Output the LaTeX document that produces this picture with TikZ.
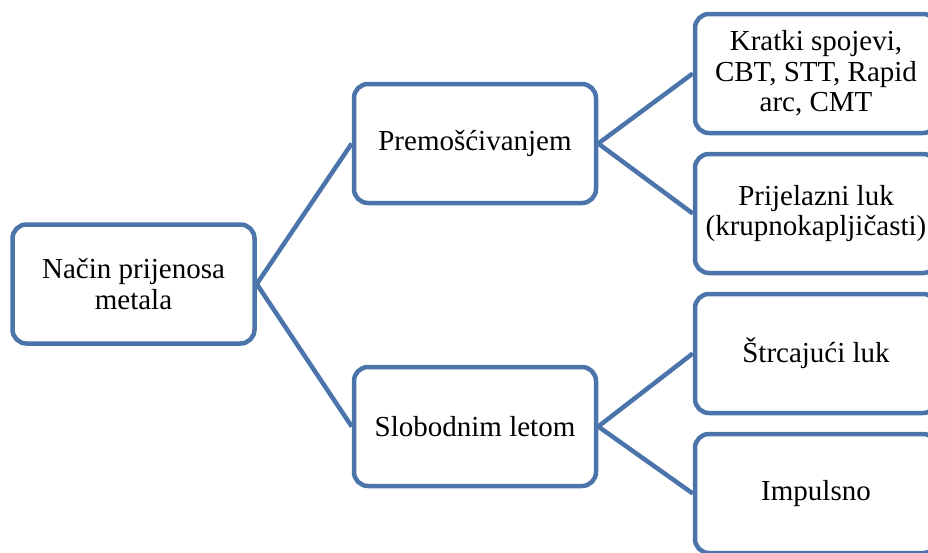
\documentclass[tikz,border=0pt]{standalone}
\usepackage{fontspec}
\setmainfont{Liberation Serif}
\definecolor{boxblue}{HTML}{4A74AA}
\begin{document}
\begin{tikzpicture}[x=1pt,y=-1pt,
  box/.style={draw=boxblue, line width=4.5pt, rounded corners=14pt, fill=white,
    minimum width=242pt, minimum height=119pt, align=center, inner sep=2pt,
    font=\fontsize{29}{30.5}\selectfont},
  conn/.style={draw=boxblue, line width=4.5pt}]
\useasboundingbox (0,0) rectangle (928,552);
\clip (0,0) rectangle (928,552);
\node[box] (L) at (133.5,284) {Način prijenosa\\metala};
\node[box] (P) at (475,143.5) {Premošćivanjem};
\node[box] (S) at (475,426.5) {Slobodnim letom};
\node[box] (R1) at (816,73.5) {Kratki spojevi,\\CBT, STT, Rapid\\arc, CMT};
\node[box] (R2) at (816,213.5) {Prijelazni luk\\(krupnokapljičasti)};
\node[box] (R3) at (816,353.5) {Štrcajući luk};
\node[box] (R4) at (816,493.5) {Impulsno};
\draw[conn] (L.east) -- (P.west);
\draw[conn] (L.east) -- (S.west);
\draw[conn] (P.east) -- (R1.west);
\draw[conn] (P.east) -- (R2.west);
\draw[conn] (S.east) -- (R3.west);
\draw[conn] (S.east) -- (R4.west);
\end{tikzpicture}
\end{document}
